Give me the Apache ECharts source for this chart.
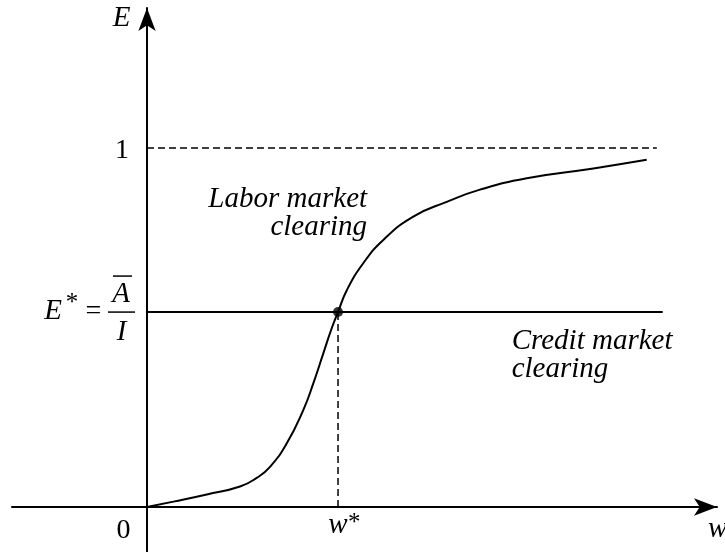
<!DOCTYPE html>
<html style="height: 100%">
<head>
<meta charset="UTF-8">
<script src="https://cdn.jsdelivr.net/npm/echarts@6/dist/echarts.min.js"></script>
</head>
<body style="height: 100%; margin: 0; background: #fff">
<div id="container" style="width: 725px; height: 552px"></div>
<script type="text/javascript">
// equilibrium point (w*, E*)
var wStar = 1;
var eStar = 0.543;
var eTop = 1;

// labor market clearing curve
var curveW = [0, 0.138, 0.313, 0.487, 0.574, 0.644, 0.731, 0.818, 0.871, 0.923, 0.967, 1, 1.046, 1.132, 1.237, 1.394, 1.569, 1.743, 1.988, 2.337, 2.616];
var curveE = [0, 0.015, 0.035, 0.057, 0.081, 0.112, 0.177, 0.270, 0.345, 0.428, 0.498, 0.543, 0.604, 0.679, 0.744, 0.809, 0.850, 0.884, 0.916, 0.943, 0.967];

// where the flat lines stop
var dashEnd = 2.669;
var creditEnd = 2.70;

// texts
var tickLabels = ['0', '1'];
var axisNames = ['w', 'E'];
var curveLabel = 'Labor market\nclearing';
var lineLabel = 'Credit market\nclearing';

var xMin = -0.7068, xMax = 2.984;
var yMin = -0.1253, yMax = 1.390;
var SERIF = '"Liberation Serif", "Times New Roman", serif';

var curveData = [];
for (var i = 0; i < curveW.length; i++) {
	curveData.push([curveW[i], curveE[i]]);
}

var dom = document.getElementById('container');
var myChart = echarts.init(dom);

function axisCfg(min, max) {
	return {
		type: 'value',
		min: min,
		max: max,
		axisLine: {
			onZero: true,
			symbol: ['none', 'arrow'],
			symbolSize: [13, 23],
			lineStyle: { color: '#000', width: 2 }
		},
		axisTick: { show: false },
		axisLabel: { show: false },
		splitLine: { show: false }
	};
}

var option = {
	animation: false,
	backgroundColor: '#fff',
	grid: { left: 12, right: 8, top: 8, bottom: 0 },
	xAxis: axisCfg(xMin, xMax),
	yAxis: axisCfg(yMin, yMax),
	series: [
		{
			name: 'top',
			type: 'line',
			data: [[0, eTop], [dashEnd, eTop]],
			showSymbol: false,
			lineStyle: { color: '#000', width: 1.5, type: [7, 4] }
		},
		{
			name: 'credit',
			type: 'line',
			data: [[0, eStar], [creditEnd, eStar]],
			showSymbol: false,
			lineStyle: { color: '#000', width: 2 }
		},
		{
			name: 'wstar',
			type: 'line',
			data: [[wStar, 0], [wStar, eStar]],
			showSymbol: false,
			lineStyle: { color: '#000', width: 1.5, type: [7, 4] }
		},
		{
			name: 'labor',
			type: 'line',
			data: curveData,
			smooth: 0.5,
			showSymbol: false,
			lineStyle: { color: '#000', width: 2 }
		},
		{
			name: 'eq',
			type: 'scatter',
			data: [[wStar, eStar]],
			symbolSize: 10,
			itemStyle: { color: '#000' },
			z: 5
		}
	]
};
myChart.setOption(option);

// texts placed from the chart's own scale
function px(x, y) { return myChart.convertToPixel({ gridIndex: 0 }, [x, y]); }
function txt(p, dx, dy, s, font, align) {
	return {
		type: 'text', x: p[0] + dx, y: p[1] + dy, silent: true, z: 10,
		style: {
			text: s, font: font, fill: '#000',
			align: align || 'center', verticalAlign: 'middle',
			textAlign: align || 'center', textVerticalAlign: 'middle',
			lineHeight: 28
		}
	};
}
function seg(p, x1, x2, dy) {
	return {
		type: 'line', silent: true, z: 10,
		shape: { x1: p[0] + x1, y1: p[1] + dy, x2: p[0] + x2, y2: p[1] + dy },
		style: { stroke: '#000', lineWidth: 1.5 }
	};
}

var it = 'italic 29px ' + SERIF;
var rg = '28px ' + SERIF;
var pO = px(0, 0), p1 = px(0, eTop), pE = px(0, eStar), pW = px(wStar, 0);
var pTop = px(0, yMax), pEnd = px(xMax, 0);

var elems = [
	txt(pO, -23.5, 24, tickLabels[0], rg),
	txt(p1, -25, 3, tickLabels[1], rg),
	txt(pTop, -25.5, 10, axisNames[1], it),
	txt(pEnd, -9, 22, axisNames[0], it, 'left'),
	txt(pW, 0, 18, 'w', it),
	txt(pW, 10, 16, '*', '25px ' + SERIF, 'left'),
	// E* = A/I
	txt(pE, -94, -1, 'E', it),
	txt(pE, -75, -9, '*', '25px ' + SERIF),
	txt(pE, -53.5, 0, '=', rg),
	txt(pE, -26, -18, 'A', it),
	txt(pE, -25.5, 20, 'I', it),
	seg(pE, -39, -12, 0),
	seg(pE, -34, -15, -36),
	txt(px(1.152, 0.819), 0, 0, curveLabel, it, 'right'),
	txt(px(1.909, 0.422), 0, 0, lineLabel, it, 'left')
];
myChart.setOption({ graphic: elems });
</script>
</body>
</html>
